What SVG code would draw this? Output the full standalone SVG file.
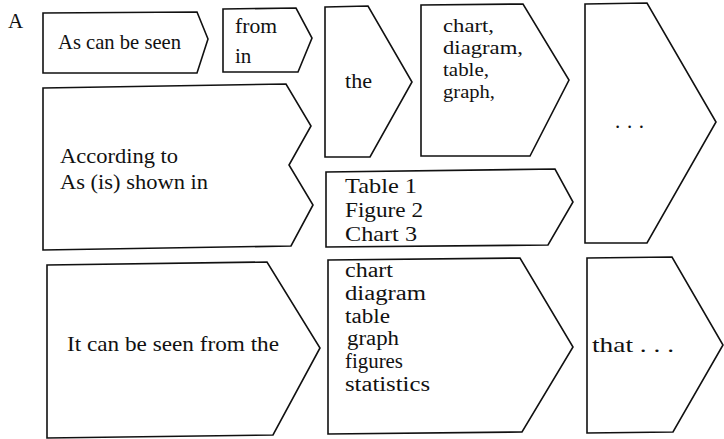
<svg xmlns="http://www.w3.org/2000/svg" width="724" height="439" viewBox="0 0 724 439">
<style>
.box{fill:#fff;stroke:#111;stroke-width:1.6;stroke-linejoin:miter}
.t{font-family:"Liberation Serif","Times New Roman",serif;font-size:21px;fill:#111;font-variant-ligatures:none}
.s{font-size:19.5px}
.m{font-size:20px}
</style>
<rect width="724" height="439" fill="#fff"/>
<text class="t" x="8" y="28" style="font-size:21px">A</text>
<g id="connectors"/>
<g id="n-as-can-be-seen">
<polygon class="box" points="43,13 197,12 208,39 197,73 43,73"/>
<text class="t" x="58" y="49" textLength="123" lengthAdjust="spacingAndGlyphs">As can be seen</text>
</g>
<g id="n-from-in">
<polygon class="box" points="223,9 296,8 312,38 298,72 223,72"/>
<text class="t" x="235" y="33" textLength="42" lengthAdjust="spacingAndGlyphs">from</text>
<text class="t" x="235" y="63">in</text>
</g>
<g id="n-the">
<polygon class="box" points="325,7 368,6 412,82 370,157 325,157"/>
<text class="t" x="345" y="88" textLength="27" lengthAdjust="spacingAndGlyphs">the</text>
</g>
<g id="n-chart-list">
<polygon class="box" points="421,5 523,4 569,80 530,156 421,156"/>
<text class="t s" x="443" y="32" textLength="51" lengthAdjust="spacingAndGlyphs">chart,</text>
<text class="t s" x="443" y="54" textLength="80" lengthAdjust="spacingAndGlyphs">diagram,</text>
<text class="t s" x="443" y="76" textLength="46" lengthAdjust="spacingAndGlyphs">table,</text>
<text class="t s" x="443" y="98" textLength="52" lengthAdjust="spacingAndGlyphs">graph,</text>
</g>
<g id="n-ellipsis">
<polygon class="box" points="585,4 647,3 716,122 647,243 585,243"/>
<text class="t" x="615" y="128" textLength="29" lengthAdjust="spacing">. . .</text>
</g>
<g id="n-according">
<polygon class="box" points="43,88 286,84 311,126 289,165 313,205 291,246 43,250"/>
<text class="t" x="60" y="163" textLength="118" lengthAdjust="spacingAndGlyphs">According to</text>
<text class="t" x="60" y="189" textLength="148" lengthAdjust="spacingAndGlyphs">As (is) shown in</text>
</g>
<g id="n-table">
<polygon class="box" points="326,172 555,169 573,202 548,245 326,247"/>
<text class="t" x="345" y="193" textLength="72" lengthAdjust="spacingAndGlyphs">Table 1</text>
<text class="t" x="345" y="217" textLength="78" lengthAdjust="spacingAndGlyphs">Figure 2</text>
<text class="t" x="345" y="241" textLength="72" lengthAdjust="spacingAndGlyphs">Chart 3</text>
</g>
<g id="n-it-can-be-seen">
<polygon class="box" points="47,265 267,262 320,348 273,435 47,438"/>
<text class="t" x="67" y="351" textLength="212" lengthAdjust="spacingAndGlyphs">It can be seen from the</text>
</g>
<g id="n-chart-list-2">
<polygon class="box" points="328,260 520,258 573,347 522,432 328,434"/>
<text class="t m" x="345" y="277" textLength="48" lengthAdjust="spacingAndGlyphs">chart</text>
<text class="t m" x="345" y="300" textLength="81" lengthAdjust="spacingAndGlyphs">diagram</text>
<text class="t m" x="345" y="323" textLength="45" lengthAdjust="spacingAndGlyphs">table</text>
<text class="t m" x="347" y="345" textLength="52" lengthAdjust="spacingAndGlyphs">graph</text>
<text class="t m" x="345" y="368" textLength="58" lengthAdjust="spacingAndGlyphs">figures</text>
<text class="t m" x="345" y="391" textLength="85" lengthAdjust="spacingAndGlyphs">statistics</text>
</g>
<g id="n-that">
<polygon class="box" points="587,258 672,257 723,345 673,432 587,433"/>
<text class="t" x="592" y="352" textLength="82" lengthAdjust="spacingAndGlyphs">that . . .</text>
</g>
</svg>
